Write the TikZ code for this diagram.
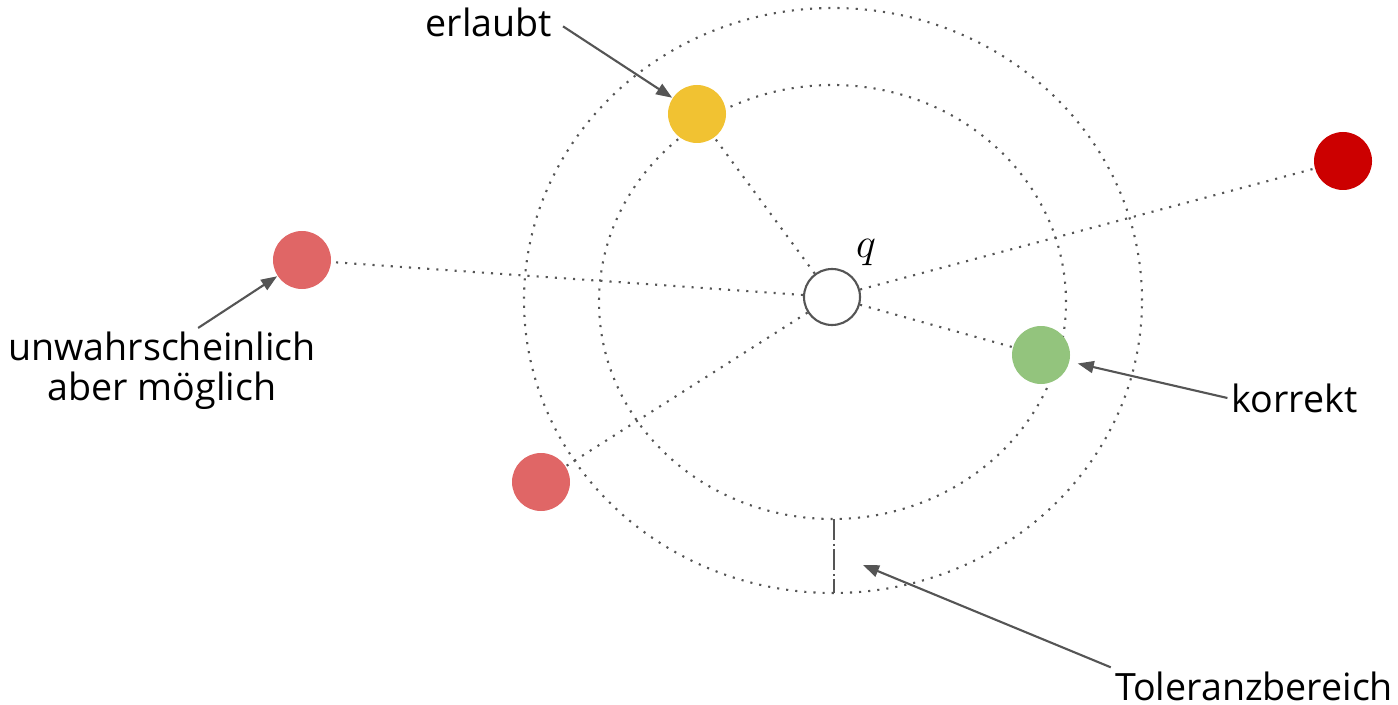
\documentclass[tikz,border=0pt]{standalone}
\usepackage{fontspec}
\setmainfont{Open Sans}
\usepackage{tikz}
\usetikzlibrary{arrows.meta,positioning,calc}
\definecolor{hit}{HTML}{93C47D}
\definecolor{okish}{HTML}{F1C232}
\definecolor{far}{HTML}{CC0000}
\definecolor{odd}{HTML}{E06666}
\definecolor{ink}{HTML}{555555}

\begin{document}
\begin{tikzpicture}[
  ball/.style={circle,draw=none,minimum size=5.8mm,inner sep=0pt},
  query/.style={circle,draw=ink,line width=0.6pt,fill=white,minimum size=5.6mm,inner sep=0pt},
  ring/.style={draw=ink,dotted,line width=0.6pt},
  dotline/.style={draw=ink,dotted,line width=0.6pt},
  arr/.style={-{Triangle[length=1.6mm,width=1.2mm]},draw=ink,line width=0.6pt},
  lbl/.style={align=center,inner sep=1pt,font=\fontsize{10.7}{11.4}\selectfont}
]
  \useasboundingbox (0,0) rectangle (13.98,7.04);
  % tolerance band
  \draw[ring] (8.33,4.035) ellipse [x radius=3.09,y radius=2.925];
  \draw[ring] (8.325,4.02) ellipse [x radius=2.335,y radius=2.17];
  \draw[draw=ink,line width=0.6pt,dash pattern=on 6pt off 1pt on 0.6pt off 1pt]
    (8.34,1.85) -- (8.34,1.11);

  \node[query] (q) at (8.32,4.07) {};
  \node[font=\fontsize{12}{14}\selectfont] (qlab) at (8.66,4.51) {$q$};
  \node[ball,fill=okish] (yel) at (6.97,5.90) {};
  \node[ball,fill=far] (red) at (13.43,5.43) {};
  \node[ball,fill=odd] (left) at (3.02,4.44) {};
  \node[ball,fill=odd] (low) at (5.41,2.22) {};
  \node[ball,fill=hit] (ok) at (10.41,3.49) {};

  \draw[dotline] (q) -- (yel);
  \draw[dotline] (q) -- (red);
  \draw[dotline] (q) -- (left);
  \draw[dotline] (q) -- (low);
  \draw[dotline] (q) -- (ok);

  \node[lbl] (erl) at (4.89,6.82) {erlaubt};
  \node[lbl] (unw) at (1.62,3.33) {unwahrscheinlich\\aber möglich};
  \node[lbl] (kor) at (12.945,3.06) {korrekt};
  \node[lbl] (tol) at (12.54,0.18) {Toleranzbereich};
  \coordinate (band) at (8.63,1.39);

  \draw[arr,shorten <=0.8mm] (erl.east) -- (yel);
  \draw[arr] (unw.50) -- (left);
  \draw[arr,shorten >=0.8mm] (kor.west) -- (ok);
  \draw[arr] (tol.north west) -- (band);
\end{tikzpicture}
\end{document}
